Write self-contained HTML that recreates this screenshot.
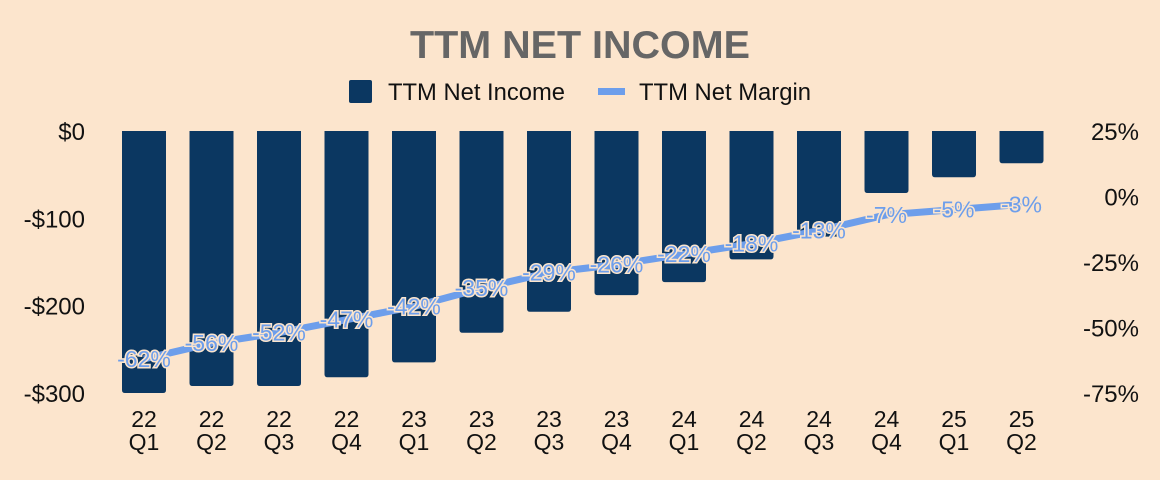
<!DOCTYPE html>
<html><head><meta charset="utf-8"><style>
body{margin:0;background:#fce5cd;}
svg{display:block;font-family:"Liberation Sans",Arial,sans-serif;}
</style></head><body>
<svg id="c" width="1160" height="480" viewBox="0 0 1160 480">
<rect width="1160" height="480" fill="#fce5cd"/>
<text x="580" y="58" text-anchor="middle" font-size="39" font-weight="bold" fill="#666666" textLength="340" lengthAdjust="spacingAndGlyphs">TTM NET INCOME</text>
<g>
<rect x="349" y="80" width="23" height="23" rx="2" fill="#0b3761"/>
<text x="388" y="100" font-size="24" fill="#111" textLength="177" lengthAdjust="spacingAndGlyphs">TTM Net Income</text>
<rect x="598" y="88" width="27" height="7" fill="#6d9eeb"/>
<text x="639" y="100" font-size="24" fill="#111" textLength="172" lengthAdjust="spacingAndGlyphs">TTM Net Margin</text>
</g>
<g id="axes"></g><g id="bars"></g><g id="line"></g><g id="labels"></g>
</svg>
<script>
const categories=[["22","Q1"],["22","Q2"],["22","Q3"],["22","Q4"],["23","Q1"],["23","Q2"],["23","Q3"],["23","Q4"],["24","Q1"],["24","Q2"],["24","Q3"],["24","Q4"],["25","Q1"],["25","Q2"]];
const netIncome=[-300,-292,-292,-282,-265,-231,-207,-188,-173,-147,-121,-71,-53,-37];
const netMargin=[-62,-56,-52,-47,-42,-35,-29,-26,-22,-18,-13,-7,-5,-3];
const leftTicks=[0,-100,-200,-300];
const leftTickLabels=["$0","-$100","-$200","-$300"];
const rightTicks=[25,0,-25,-50,-75];
const rightTickLabels=["25%","0%","-25%","-50%","-75%"];
const NS="http://www.w3.org/2000/svg";
const yL=v=>131-v*0.8733;
const yR=v=>196.5-v*2.62;
const xC=i=>144+i*67.5;
function mk(tag,attrs,parent,txt){const e=document.createElementNS(NS,tag);for(const k in attrs)e.setAttribute(k,attrs[k]);if(txt!==undefined)e.textContent=txt;document.getElementById(parent).appendChild(e);return e;}
leftTicks.forEach((t,i)=>{const e=mk("text",{x:85,y:yL(t)+9,"text-anchor":"end","font-size":24,fill:"#111"},"axes",leftTickLabels[i]);

});
rightTicks.forEach((t,i)=>{const e=mk("text",{x:1139,y:yR(t)+9,"text-anchor":"end","font-size":24,fill:"#111"},"axes",rightTickLabels[i]);

});
categories.forEach((c,i)=>{const e=mk("text",{x:xC(i),y:427,"text-anchor":"middle","font-size":23,fill:"#111"},"axes");


const a=document.createElementNS(NS,"tspan");a.setAttribute("x",xC(i));a.textContent=c[0];e.appendChild(a);
const b=document.createElementNS(NS,"tspan");b.setAttribute("x",xC(i));b.setAttribute("dy","23");b.textContent=c[1];e.appendChild(b);});
netIncome.forEach((v,i)=>{const y0=yL(0),y1=yL(v);const h=Math.max(0,y1-y0);
const e=mk("path",{d:`M${xC(i)-22},${y0}H${xC(i)+22}V${y0+h-3}Q${xC(i)+22},${y0+h} ${xC(i)+19},${y0+h}H${xC(i)-19}Q${xC(i)-22},${y0+h} ${xC(i)-22},${y0+h-3}Z`,fill:"#0b3761"},"bars");

});
const pts=netMargin.map((v,i)=>xC(i)+","+yR(v)).join(" ");
const pl=mk("polyline",{points:pts,fill:"none",stroke:"#6d9eeb","stroke-width":7,"stroke-linejoin":"round"},"line");


netMargin.forEach((v,i)=>{const e=mk("text",{x:xC(i),y:yR(v)+8,"text-anchor":"middle","font-size":23,fill:"#6d9eeb",stroke:"#fce5cd","stroke-width":3,"paint-order":"stroke"},"labels",v+"%");

});
</script>
</body></html>
